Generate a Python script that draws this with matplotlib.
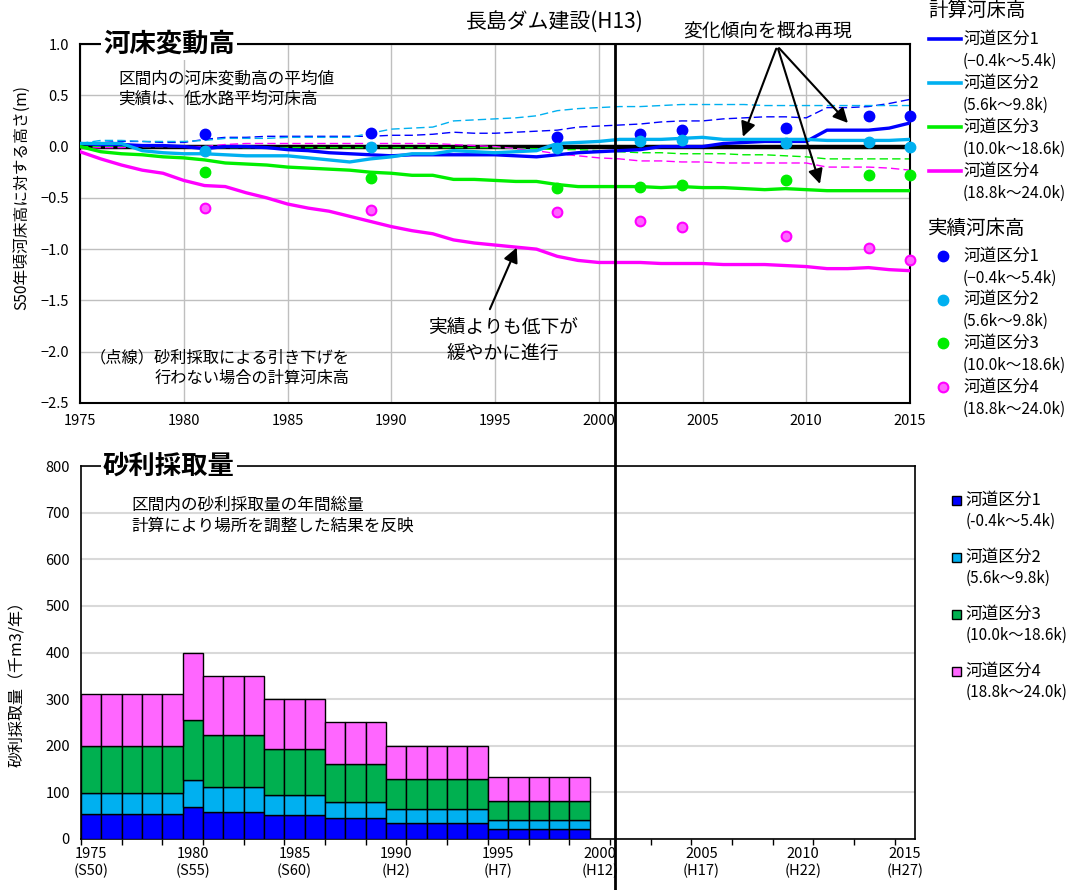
import matplotlib
matplotlib.use('Agg')
import matplotlib.pyplot as plt
from matplotlib.lines import Line2D
from matplotlib.patches import Rectangle

plt.rcParams['font.family'] = ['Noto Sans CJK JP', 'DejaVu Sans']

# ---- 河床変動高 (top) ----
years = list(range(1975, 2016))

# 計算河床高 (solid)
calc_1 = [0.03, 0.02, 0.02, 0.01, 0.01, 0.00, -0.02, 0.00, 0.00, -0.01,
          -0.03, -0.04, -0.06, -0.07, -0.08, -0.09, -0.08, -0.08, -0.08, -0.08,
          -0.08, -0.09, -0.10, -0.08, -0.06, -0.05, -0.04, -0.03, 0.00, 0.00,
          0.00, 0.03, 0.04, 0.05, 0.05, 0.05, 0.16, 0.16, 0.16, 0.18, 0.23]
calc_2 = [0.03, 0.03, 0.03, -0.04, -0.06, -0.07, -0.07, -0.08, -0.09, -0.09,
          -0.09, -0.11, -0.13, -0.15, -0.12, -0.10, -0.07, -0.07, -0.04, -0.05,
          -0.06, -0.05, -0.04, 0.03, 0.04, 0.05, 0.07, 0.07, 0.07, 0.08,
          0.09, 0.07, 0.07, 0.07, 0.07, 0.07, 0.06, 0.06, 0.06, 0.06, 0.07]
calc_3 = [0.00, -0.05, -0.07, -0.08, -0.10, -0.11, -0.13, -0.16, -0.17, -0.18,
          -0.20, -0.21, -0.22, -0.23, -0.25, -0.26, -0.28, -0.28, -0.32, -0.32,
          -0.33, -0.34, -0.34, -0.37, -0.39, -0.39, -0.39, -0.39, -0.40, -0.39,
          -0.40, -0.40, -0.41, -0.42, -0.41, -0.42, -0.43, -0.43, -0.43, -0.43, -0.43]
calc_4 = [-0.05, -0.12, -0.18, -0.23, -0.26, -0.33, -0.38, -0.39, -0.45, -0.50,
          -0.56, -0.60, -0.63, -0.68, -0.73, -0.78, -0.82, -0.85, -0.91, -0.94,
          -0.96, -0.98, -1.00, -1.07, -1.11, -1.13, -1.13, -1.13, -1.14, -1.14,
          -1.14, -1.15, -1.15, -1.15, -1.16, -1.17, -1.19, -1.19, -1.18, -1.20, -1.21]

# 砂利採取なしの計算河床高 (dashed)
nocut_1 = [0.03, 0.04, 0.05, 0.05, 0.04, 0.04, 0.07, 0.09, 0.09, 0.10,
           0.10, 0.10, 0.10, 0.10, 0.10, 0.11, 0.11, 0.12, 0.14, 0.13,
           0.13, 0.14, 0.15, 0.16, 0.19, 0.20, 0.21, 0.22, 0.24, 0.25,
           0.25, 0.27, 0.28, 0.29, 0.29, 0.28, 0.38, 0.38, 0.39, 0.42, 0.46]
nocut_2 = [0.03, 0.06, 0.06, 0.05, 0.05, 0.05, 0.06, 0.08, 0.08, 0.08,
           0.09, 0.09, 0.09, 0.09, 0.13, 0.17, 0.18, 0.19, 0.25, 0.26,
           0.27, 0.28, 0.30, 0.35, 0.37, 0.38, 0.39, 0.39, 0.40, 0.41,
           0.41, 0.41, 0.41, 0.40, 0.40, 0.40, 0.40, 0.40, 0.40, 0.40, 0.40]
nocut_3 = [0.00, 0.00, 0.00, 0.00, 0.00, 0.00, -0.01, -0.01, -0.01, -0.01,
           -0.01, -0.01, -0.01, -0.01, -0.01, -0.01, -0.01, -0.01, -0.01, -0.01,
           -0.01, -0.02, -0.02, -0.03, -0.03, -0.04, -0.05, -0.06, -0.06, -0.07,
           -0.07, -0.07, -0.08, -0.08, -0.09, -0.10, -0.12, -0.12, -0.12, -0.12, -0.12]
nocut_4 = [-0.02, -0.01, -0.01, 0.00, 0.00, 0.00, 0.00, 0.02, 0.03, 0.03,
           0.03, 0.03, 0.03, 0.03, 0.03, 0.03, 0.03, 0.03, 0.02, 0.01,
           0.00, -0.02, -0.04, -0.07, -0.09, -0.11, -0.12, -0.14, -0.14, -0.15,
           -0.15, -0.16, -0.16, -0.16, -0.16, -0.16, -0.20, -0.20, -0.20, -0.21, -0.23]

# 実績河床高 (dots)
obs_years = [1981, 1989, 1998, 2002, 2004, 2009, 2013, 2015]
obs_1 = [0.12, 0.13, 0.09, 0.12, 0.16, 0.18, 0.30, 0.30]
obs_2 = [-0.04, 0.00, -0.01, 0.05, 0.06, 0.03, 0.04, 0.00]
obs_3 = [-0.25, -0.31, -0.40, -0.39, -0.37, -0.33, -0.28, -0.28]
obs_4 = [-0.60, -0.62, -0.64, -0.73, -0.78, -0.87, -0.99, -1.11]

# ---- 砂利採取量 (bottom), 千m3/年 ----
bar_years = list(range(1975, 2000))
gravel_1 = [54, 54, 54, 54, 54, 68, 57, 57, 57, 51, 51, 51, 44, 44, 44,
            34, 34, 34, 34, 34, 21, 21, 21, 21, 21]
gravel_2 = [45, 45, 45, 45, 45, 58, 55, 55, 55, 43, 43, 43, 35, 35, 35,
            30, 30, 30, 30, 30, 20, 20, 20, 20, 20]
gravel_3 = [100, 100, 100, 100, 100, 130, 112, 112, 112, 98, 98, 98, 81, 81, 81,
            64, 64, 64, 64, 64, 41, 41, 41, 41, 41]
gravel_4 = [113, 113, 113, 113, 113, 144, 125, 125, 125, 108, 108, 108, 91, 91, 91,
            72, 72, 72, 72, 72, 50, 50, 50, 50, 50]

bottom_ticks = [1975, 1980, 1985, 1990, 1995, 2000, 2005, 2010, 2015]
bottom_eras = ['S50', 'S55', 'S60', 'H2', 'H7', 'H12', 'H17', 'H22', 'H27']

names = ['河道区分1', '河道区分2', '河道区分3', '河道区分4']
ranges_top = ['(−0.4k～5.4k)', '(5.6k～9.8k)', '(10.0k～18.6k)', '(18.8k～24.0k)']
ranges_bot = ['(-0.4k～5.4k)', '(5.6k～9.8k)', '(10.0k～18.6k)', '(18.8k～24.0k)']

line_colors = ['#0000FF', '#00B0F0', '#00EE00', '#FF00FF']
bar_colors = ['#0000FF', '#00B0F0', '#00B050', '#FF66FF']
dam_year = 2000.8

W, H = 1070, 890
fig = plt.figure(figsize=(W / 100, H / 100), dpi=100)


def fx(x):
    return x / W


def fy(y):
    return 1 - y / H


ax1 = fig.add_axes([fx(80), fy(403), (910 - 80) / W, (403 - 44) / H])
ax2 = fig.add_axes([fx(81), fy(839), (915 - 81) / W, (839 - 466) / H])

# ---------- top chart ----------
calc = [calc_1, calc_2, calc_3, calc_4]
nocut = [nocut_1, nocut_2, nocut_3, nocut_4]
obs = [obs_1, obs_2, obs_3, obs_4]

ax1.axhline(0, color='black', lw=3.2, zorder=2)
for i in range(4):
    ax1.plot(years, nocut[i], color=line_colors[i], lw=1.0, dashes=(6, 3), zorder=2.5)
for i in range(4):
    ax1.plot(years, calc[i], color=line_colors[i], lw=2.4, zorder=3)
for i in range(4):
    if i == 3:
        ax1.plot(obs_years, obs[i], 'o', ms=7, mfc='#FF66FF', mec='#FF00FF', mew=1.5,
                 zorder=5, clip_on=False)
    else:
        ax1.plot(obs_years, obs[i], 'o', ms=7.5, color=line_colors[i], zorder=5, clip_on=False)

ax1.set_xlim(1975, 2015)
ax1.set_ylim(-2.5, 1.0)
ax1.set_xticks(range(1975, 2016, 5))
yt = [1.0, 0.5, 0.0, -0.5, -1.0, -1.5, -2.0, -2.5]
ax1.set_yticks(yt)
ax1.set_yticklabels([f'{v:.1f}'.replace('-', '−') for v in yt])
ax1.grid(color='#BFBFBF', lw=1)
ax1.set_axisbelow(True)
ax1.tick_params(length=0, labelsize=10.5, pad=8)
for s in ax1.spines.values():
    s.set_linewidth(1.5)
fig.text(fx(22), fy(197), 'S50年頃河床高に対する高さ(m)', fontsize=11.3, rotation=90,
         ha='center', va='center')

arrow = dict(arrowstyle='-|>', mutation_scale=22, lw=1.5, color='black')
ax1.annotate('', xy=(2006.9, 0.07), xytext=(2008.6, 0.98), arrowprops=arrow)
ax1.annotate('', xy=(2012.1, 0.21), xytext=(2008.6, 0.98), arrowprops=arrow)
ax1.annotate('', xy=(2010.7, -0.39), xytext=(2008.6, 0.98), arrowprops=arrow)
ax1.annotate('', xy=(1996.1, -0.96), xytext=(1994.7, -1.61), arrowprops=arrow)

fig.text(fx(103), fy(44), '河床変動高', fontsize=19, fontweight='bold', va='center',
         bbox=dict(facecolor='white', edgecolor='none', pad=1.5))
fig.text(fx(555), fy(22), '長島ダム建設(H13)', fontsize=15, ha='center', va='center')
fig.text(fx(768), fy(31), '変化傾向を概ね再現', fontsize=13.5, ha='center', va='center')
fig.text(fx(118), fy(89), '区間内の河床変動高の平均値\n実績は、低水路平均河床高',
         fontsize=12, va='center', linespacing=1.3)
fig.text(fx(350), fy(368), '（点線）砂利採取による引き下げを\n行わない場合の計算河床高',
         fontsize=11.7, ha='right', va='center', multialignment='right', linespacing=1.3)
fig.text(fx(503), fy(341), '実績よりも低下が\n緩やかに進行', fontsize=13.5,
         ha='center', va='center', multialignment='center', linespacing=1.2)

# top legends
fig.text(fx(928), fy(10), '計算河床高', fontsize=14, va='center')
for i in range(4):
    y0 = 39 + i * 44
    fig.add_artist(Line2D([fx(929), fx(961)], [fy(y0), fy(y0)], color=line_colors[i],
                          lw=2.6, transform=fig.transFigure))
    fig.text(fx(963), fy(y0), names[i], fontsize=12, va='center')
    fig.text(fx(963), fy(y0 + 22), ranges_top[i], fontsize=11.2, va='center')

fig.text(fx(928), fy(228), '実績河床高', fontsize=14, va='center')
for i in range(4):
    y0 = 256 + i * 43.7
    if i == 3:
        fig.add_artist(Line2D([fx(943)], [fy(y0)], marker='o', ms=7, mfc='#FF66FF',
                              mec='#FF00FF', mew=1.5, transform=fig.transFigure))
    else:
        fig.add_artist(Line2D([fx(943)], [fy(y0)], marker='o', ms=7.5, color=line_colors[i],
                              transform=fig.transFigure))
    fig.text(fx(963), fy(y0), names[i], fontsize=12, va='center')
    fig.text(fx(963), fy(y0 + 22), ranges_top[i], fontsize=11.2, va='center')

# ---------- bottom chart ----------
gravel = [gravel_1, gravel_2, gravel_3, gravel_4]
base = [0] * len(bar_years)
for i in range(4):
    ax2.bar(bar_years, gravel[i], width=1.0, bottom=base, color=bar_colors[i],
            edgecolor='black', lw=1, zorder=3)
    base = [b + g for b, g in zip(base, gravel[i])]

ax2.set_xlim(1974.5, 2015.5)
ax2.set_ylim(0, 800)
ax2.set_yticks(range(0, 801, 100))
ax2.yaxis.grid(True, color='#D9D9D9', lw=1.5)
ax2.set_axisbelow(True)
ax2.set_xticks(bottom_ticks)
ax2.set_xticklabels([f'{y}\n({e})' for y, e in zip(bottom_ticks, bottom_eras)])
ax2.set_xticks([1974.5 + 2 * k for k in range(21)], minor=True)
ax2.tick_params(axis='x', which='major', length=0, labelsize=10.5, pad=6)
ax2.tick_params(axis='x', which='minor', length=4, width=1, direction='out')
ax2.tick_params(axis='y', length=0, labelsize=10.5, pad=8)
for s in ax2.spines.values():
    s.set_linewidth(1.2)
fig.text(fx(18), fy(680), '砂利採取量（千m3/年）', fontsize=11.5, rotation=90,
         ha='center', va='center')

fig.text(fx(103), fy(466), '砂利採取量', fontsize=19, fontweight='bold', va='center',
         bbox=dict(facecolor='white', edgecolor='none', pad=1.5))
fig.text(fx(131), fy(516), '区間内の砂利採取量の年間総量\n計算により場所を調整した結果を反映',
         fontsize=12, va='center', linespacing=1.3)

for i in range(4):
    y0 = 500 + i * 57
    fig.add_artist(Rectangle((fx(952), fy(y0 + 4.5)), 9 / W, 9 / H, facecolor=bar_colors[i],
                             edgecolor='black', lw=1, transform=fig.transFigure))
    fig.text(fx(966), fy(y0), names[i], fontsize=12, va='center')
    fig.text(fx(966), fy(y0 + 21), ranges_bot[i], fontsize=11, va='center')

# dam construction line (H13) through both charts
xd = fig.transFigure.inverted().transform(ax1.transData.transform((dam_year, 0)))[0]
fig.add_artist(Line2D([xd, xd], [fy(44), 0], color='black', lw=2, transform=fig.transFigure))

fig.savefig('out.png', dpi=100)
